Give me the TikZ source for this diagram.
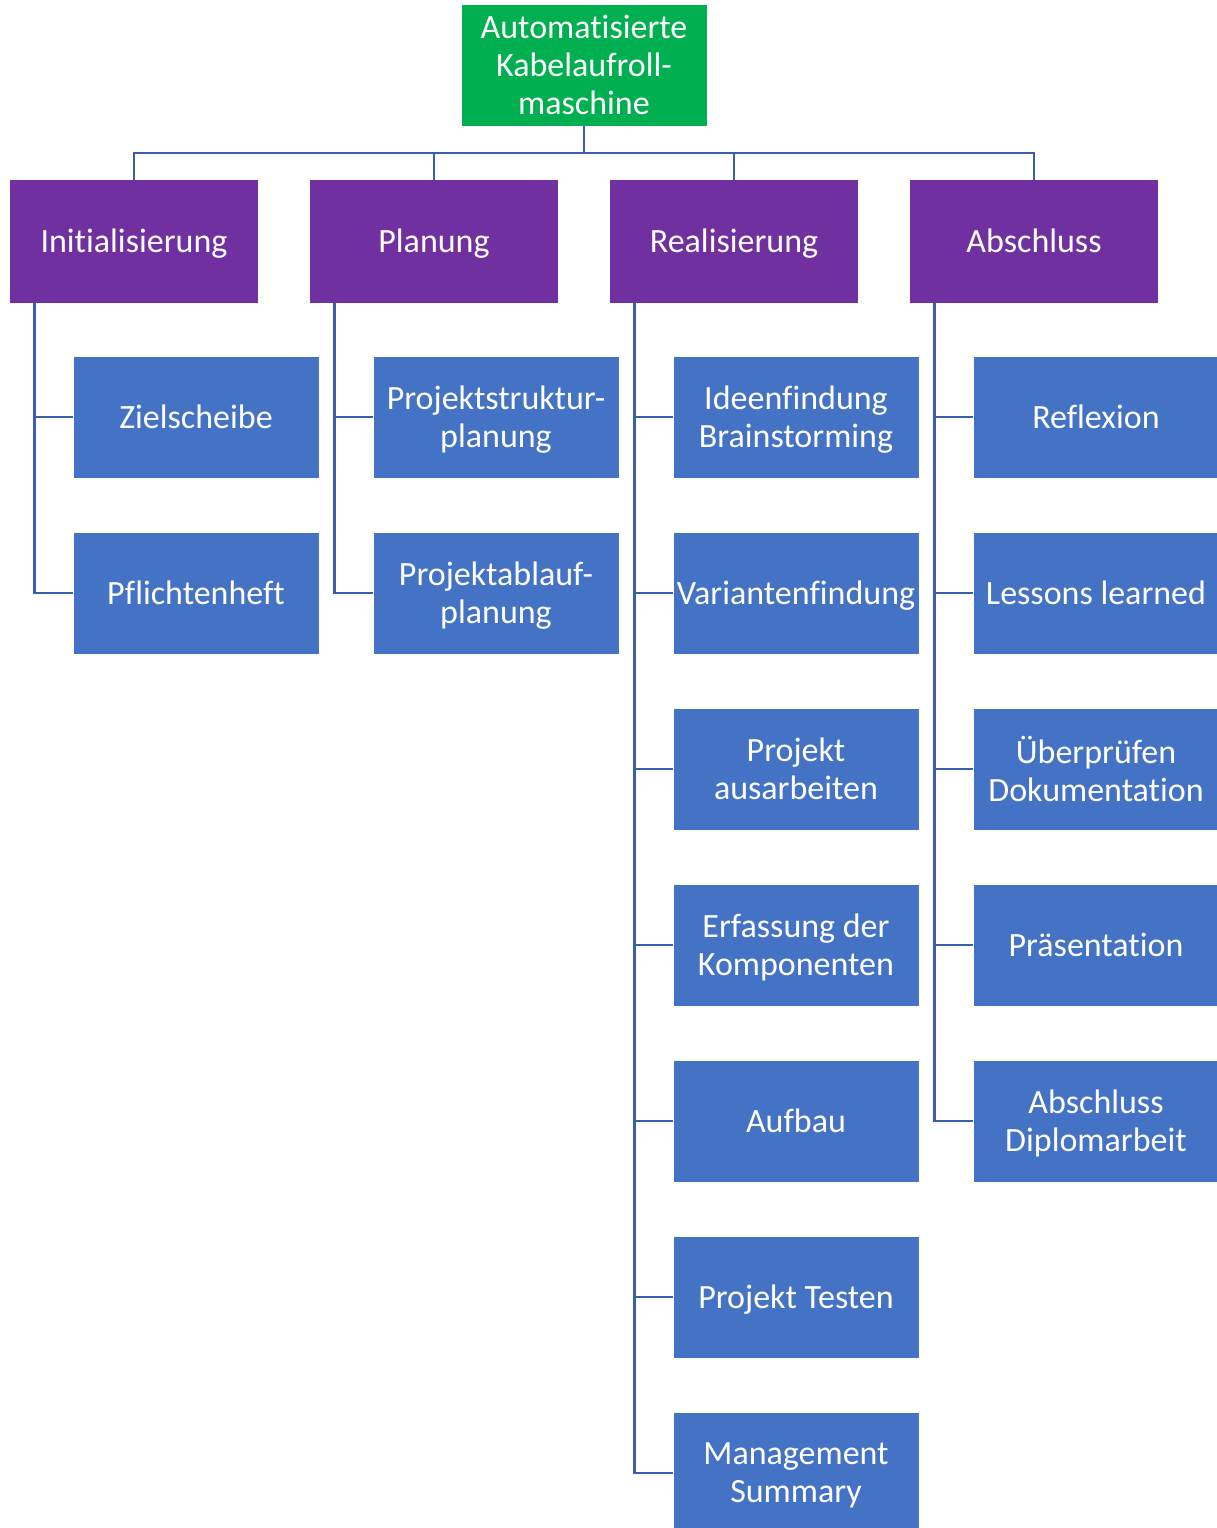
\documentclass[tikz,border=0pt]{standalone}
\usepackage{fontspec}
\setmainfont[Ligatures=NoCommon]{Carlito}
\definecolor{rootgreen}{HTML}{00B050}
\definecolor{phasepurple}{HTML}{7030A0}
\definecolor{taskblue}{HTML}{4472C4}
\definecolor{wire}{HTML}{3A5EA8}
% invisible rules that fix the height of the first line and the depth of the last
\newcommand{\toprule}{\rule{0pt}{32pt}}
\newcommand{\botrule}{\rule[-10pt]{0pt}{10pt}}
\begin{document}
\begin{tikzpicture}[x=1pt,y=-1pt,
  box/.style={rectangle, inner sep=0pt, text=white, align=center,
    font=\fontsize{34}{38}\selectfont,
    execute at begin node=\toprule, execute at end node=\botrule},
  multi/.style={text depth=1pt},
  rootbox/.style={box, fill=rootgreen, minimum width=245pt, minimum height=121pt},
  phasebox/.style={box, fill=phasepurple, minimum width=248pt, minimum height=123pt},
  taskbox/.style={box, fill=taskblue, minimum width=245pt, minimum height=121pt},
  link/.style={draw=wire, line width=2.8pt}]
\useasboundingbox (0,0) rectangle (1216,1528);

% root
\node[rootbox, multi] (root) at (584,65.5) {Automatisierte\\Kabelaufroll-\\maschine};
\coordinate (bus) at (584,153);

% phases
\node[phasebox] (p1) at (134,241.5) {Initialisierung};
\node[phasebox] (p2) at (434,241.5) {Planung};
\node[phasebox] (p3) at (734,241.5) {Realisierung};
\node[phasebox] (p4) at (1034,241.5) {Abschluss};

% tasks: Initialisierung
\node[taskbox] (a1) at (196,417) {Zielscheibe};
\node[taskbox] (a2) at (196,593) {Pflichtenheft};
% tasks: Planung
\node[taskbox, multi] (b1) at (496,417) {Projektstruktur-\\planung};
\node[taskbox, multi] (b2) at (496,593) {Projektablauf-\\planung};
% tasks: Realisierung
\node[taskbox, multi] (c1) at (796,417) {Ideenfindung\\Brainstorming};
\node[taskbox] (c2) at (796,593) {Variantenfindung};
\node[taskbox, multi] (c3) at (796,769) {Projekt\\ausarbeiten};
\node[taskbox, multi] (c4) at (796,945) {Erfassung der\\Komponenten};
\node[taskbox] (c5) at (796,1121) {Aufbau};
\node[taskbox] (c6) at (796,1297) {Projekt Testen};
\node[taskbox, multi] (c7) at (796,1473) {Management\\Summary};
% tasks: Abschluss
\node[taskbox] (d1) at (1096,417) {Reflexion};
\node[taskbox] (d2) at (1096,593) {Lessons learned};
\node[taskbox, multi] (d3) at (1096,769) {Überprüfen\\Dokumentation};
\node[taskbox] (d4) at (1096,945) {Präsentation};
\node[taskbox, multi] (d5) at (1096,1121) {Abschluss\\Diplomarbeit};

% root to phases
\draw[link] (root.south) -- (bus);
\foreach \p in {p1,p2,p3,p4}
  \draw[link] (bus) -| (\p.north);

% phase spines to tasks
\foreach \p/\t in {p1/a1,p1/a2,p2/b1,p2/b2,
                   p3/c1,p3/c2,p3/c3,p3/c4,p3/c5,p3/c6,p3/c7,
                   p4/d1,p4/d2,p4/d3,p4/d4,p4/d5}
  \draw[link] ([xshift=25pt]\p.south west) |- (\t.west);
\end{tikzpicture}
\end{document}
